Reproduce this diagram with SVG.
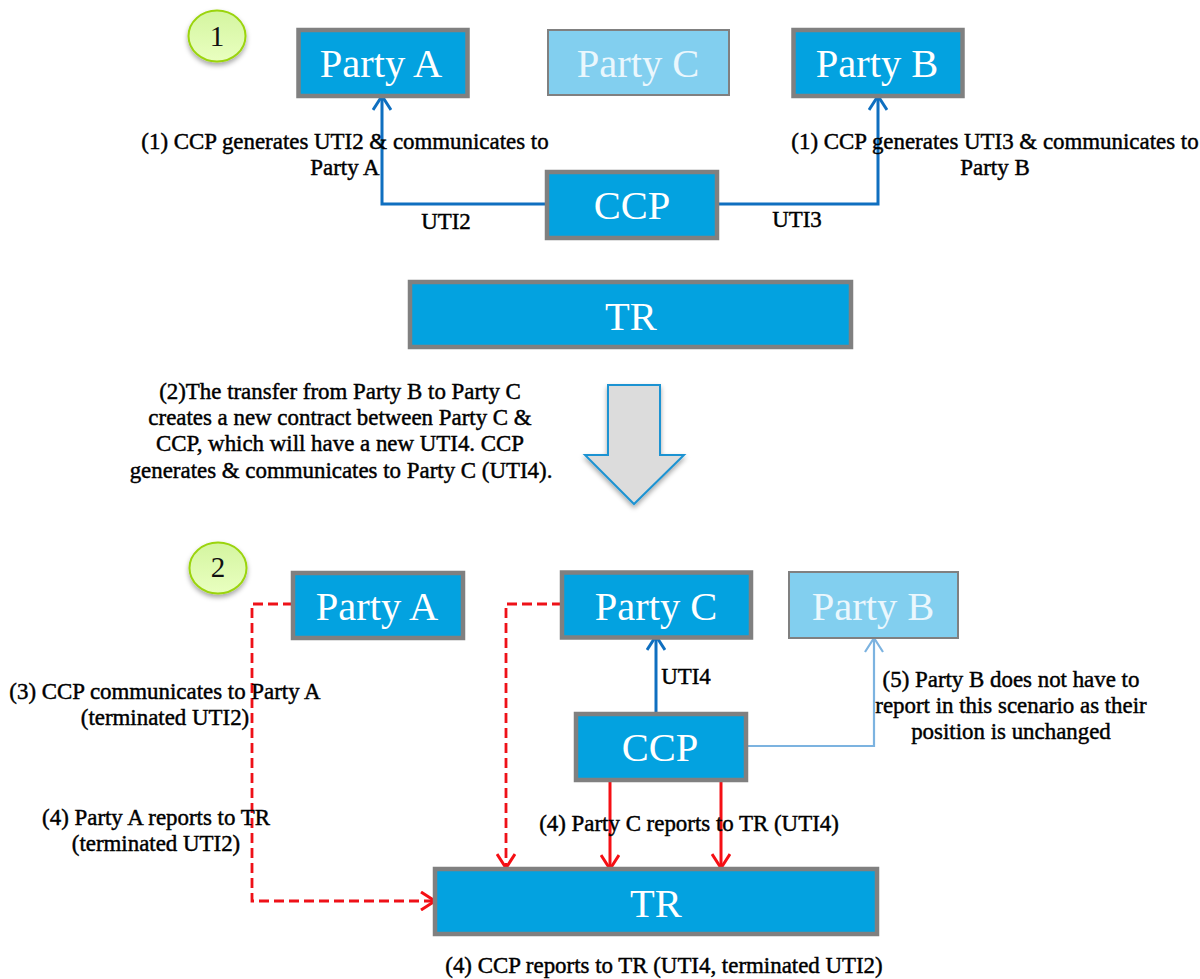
<svg xmlns="http://www.w3.org/2000/svg" width="1200" height="979" viewBox="0 0 1200 979">
<style>
text{font-family:"Liberation Serif","Times New Roman",serif}
.box{fill:#03a2e0;stroke:#808080;stroke-width:4.5}
.pale{fill:#82cfef;stroke:#808080;stroke-width:2}
.n{font-size:40.500px;fill:#fff;text-anchor:middle}
.pn{font-size:40.500px;fill:#eaf7fd;text-anchor:middle}
.t{font-size:22.900px;fill:#000;text-anchor:middle;stroke:#000;stroke-width:.45}
.num{font-size:29px;fill:#111;text-anchor:middle}
.badge{fill:url(#g);stroke:#9bd40e;stroke-width:2;filter:url(#s)}
.blue{fill:none;stroke:#0f6fc0;stroke-width:3}
.lb{fill:none;stroke:#7cb3e0;stroke-width:2.200}
.red{fill:none;stroke:#f50f14;stroke-width:3}
.dash{fill:none;stroke:#ee1118;stroke-width:2.800;stroke-dasharray:10 5}
</style>
<defs>
<linearGradient id="g" x1="0" y1="0" x2="0" y2="1"><stop offset="0" stop-color="#d4f5a0"/><stop offset="1" stop-color="#e9ffc0"/></linearGradient>
<filter id="s" x="-30%" y="-30%" width="160%" height="160%"><feDropShadow dx="0" dy="3" stdDeviation="2.500" flood-color="#000" flood-opacity=".35"/></filter>
<marker id="ab" viewBox="0 0 20 20" refX="18" refY="10" markerWidth="20" markerHeight="20" markerUnits="userSpaceOnUse" orient="auto"><path d="M4 1 18 10 4 19" fill="none" stroke="#0f6fc0" stroke-width="3"/></marker>
<marker id="al" viewBox="0 0 20 20" refX="18" refY="10" markerWidth="20" markerHeight="20" markerUnits="userSpaceOnUse" orient="auto"><path d="M4 1 18 10 4 19" fill="none" stroke="#7cb3e0" stroke-width="2.200"/></marker>
<marker id="ar" viewBox="0 0 20 20" refX="18" refY="10" markerWidth="20" markerHeight="20" markerUnits="userSpaceOnUse" orient="auto"><path d="M4 1 18 10 4 19" fill="none" stroke="#f50f14" stroke-width="3"/></marker>
</defs>

<g id="connectors">
<path class="blue" marker-end="url(#ab)" d="M548 204H382V96"/>
<path class="blue" marker-end="url(#ab)" d="M717 204H878V96"/>
<path class="blue" marker-end="url(#ab)" d="M656 712V636"/>
<path class="lb" marker-end="url(#al)" d="M746 746H874V638"/>
<path class="red" marker-end="url(#ar)" d="M610 779V869"/>
<path class="red" marker-end="url(#ar)" d="M721 778V868"/>
<path class="dash" marker-end="url(#ar)" d="M293 604H252V901H435"/>
<path class="dash" marker-end="url(#ar)" d="M562 604H506V868"/>
</g>

<g id="badge1"><ellipse class="badge" cx="217" cy="36" rx="28.500" ry="25.500"/><text class="num" x="217" y="46">1</text></g>
<g id="partyA1"><rect class="box" x="298.500" y="30" width="169" height="66"/><text class="n" x="381" y="77">Party A</text></g>
<g id="partyC1"><rect class="pale" x="548" y="30" width="181" height="65"/><text class="pn" x="638" y="77">Party C</text></g>
<g id="partyB1"><rect class="box" x="793.500" y="30" width="169" height="66"/><text class="n" x="877" y="77">Party B</text></g>
<g id="ccp1"><rect class="box" x="547" y="172" width="170" height="66"/><text class="n" x="632" y="219">CCP</text></g>
<g id="tr1"><rect class="box" x="410" y="282" width="441" height="65"/><text class="n" x="631" y="330">TR</text></g>

<g id="transfer-arrow"><path d="M608 385H660V455H684L634 504 585 455H608Z" fill="#dcdcdc" stroke="#1d93d2" stroke-width="2" filter="url(#s)"/></g>

<g id="badge2"><ellipse class="badge" cx="218" cy="568" rx="28.500" ry="25.500"/><text class="num" x="218" y="577">2</text></g>
<g id="partyA2"><rect class="box" x="293" y="573" width="170" height="65"/><text class="n" x="377" y="620">Party A</text></g>
<g id="partyC2"><rect class="box" x="562" y="572.500" width="189" height="65"/><text class="n" x="656" y="620">Party C</text></g>
<g id="partyB2"><rect class="pale" x="789" y="572" width="169" height="66"/><text class="pn" x="873" y="620">Party B</text></g>
<g id="ccp2"><rect class="box" x="576" y="714" width="170" height="66"/><text class="n" x="660" y="761">CCP</text></g>
<g id="tr2"><rect class="box" x="435" y="869" width="442" height="65"/><text class="n" x="656" y="917">TR</text></g>

<g id="labels">
<text class="t" x="345" y="149">(1) CCP generates UTI2 &amp; communicates to</text>
<text class="t" x="345" y="175">Party A</text>
<text class="t" x="446" y="229">UTI2</text>
<text class="t" x="995" y="149">(1) CCP generates UTI3 &amp; communicates to</text>
<text class="t" x="995" y="175">Party B</text>
<text class="t" x="797" y="227">UTI3</text>
<text class="t" x="340" y="399">(2)The transfer from Party B to Party C</text>
<text class="t" x="340" y="425">creates a new contract between Party C &amp;</text>
<text class="t" x="340" y="451">CCP, which will have a new UTI4.  CCP</text>
<text class="t" x="341" y="478">generates &amp; communicates to Party C (UTI4).</text>
<text class="t" x="165" y="699">(3) CCP communicates to Party A</text>
<text class="t" x="165" y="725">(terminated UTI2)</text>
<text class="t" x="156" y="825">(4) Party A reports to TR</text>
<text class="t" x="156" y="851">(terminated UTI2)</text>
<text class="t" x="686" y="684">UTI4</text>
<text class="t" x="1011" y="687">(5) Party B does not have to</text>
<text class="t" x="1011" y="713">report in this scenario as their</text>
<text class="t" x="1011" y="739">position is unchanged</text>
<text class="t" x="689" y="831">(4) Party C reports to TR (UTI4)</text>
<text class="t" x="664" y="973">(4) CCP reports to TR (UTI4, terminated UTI2)</text>
</g>
</svg>
